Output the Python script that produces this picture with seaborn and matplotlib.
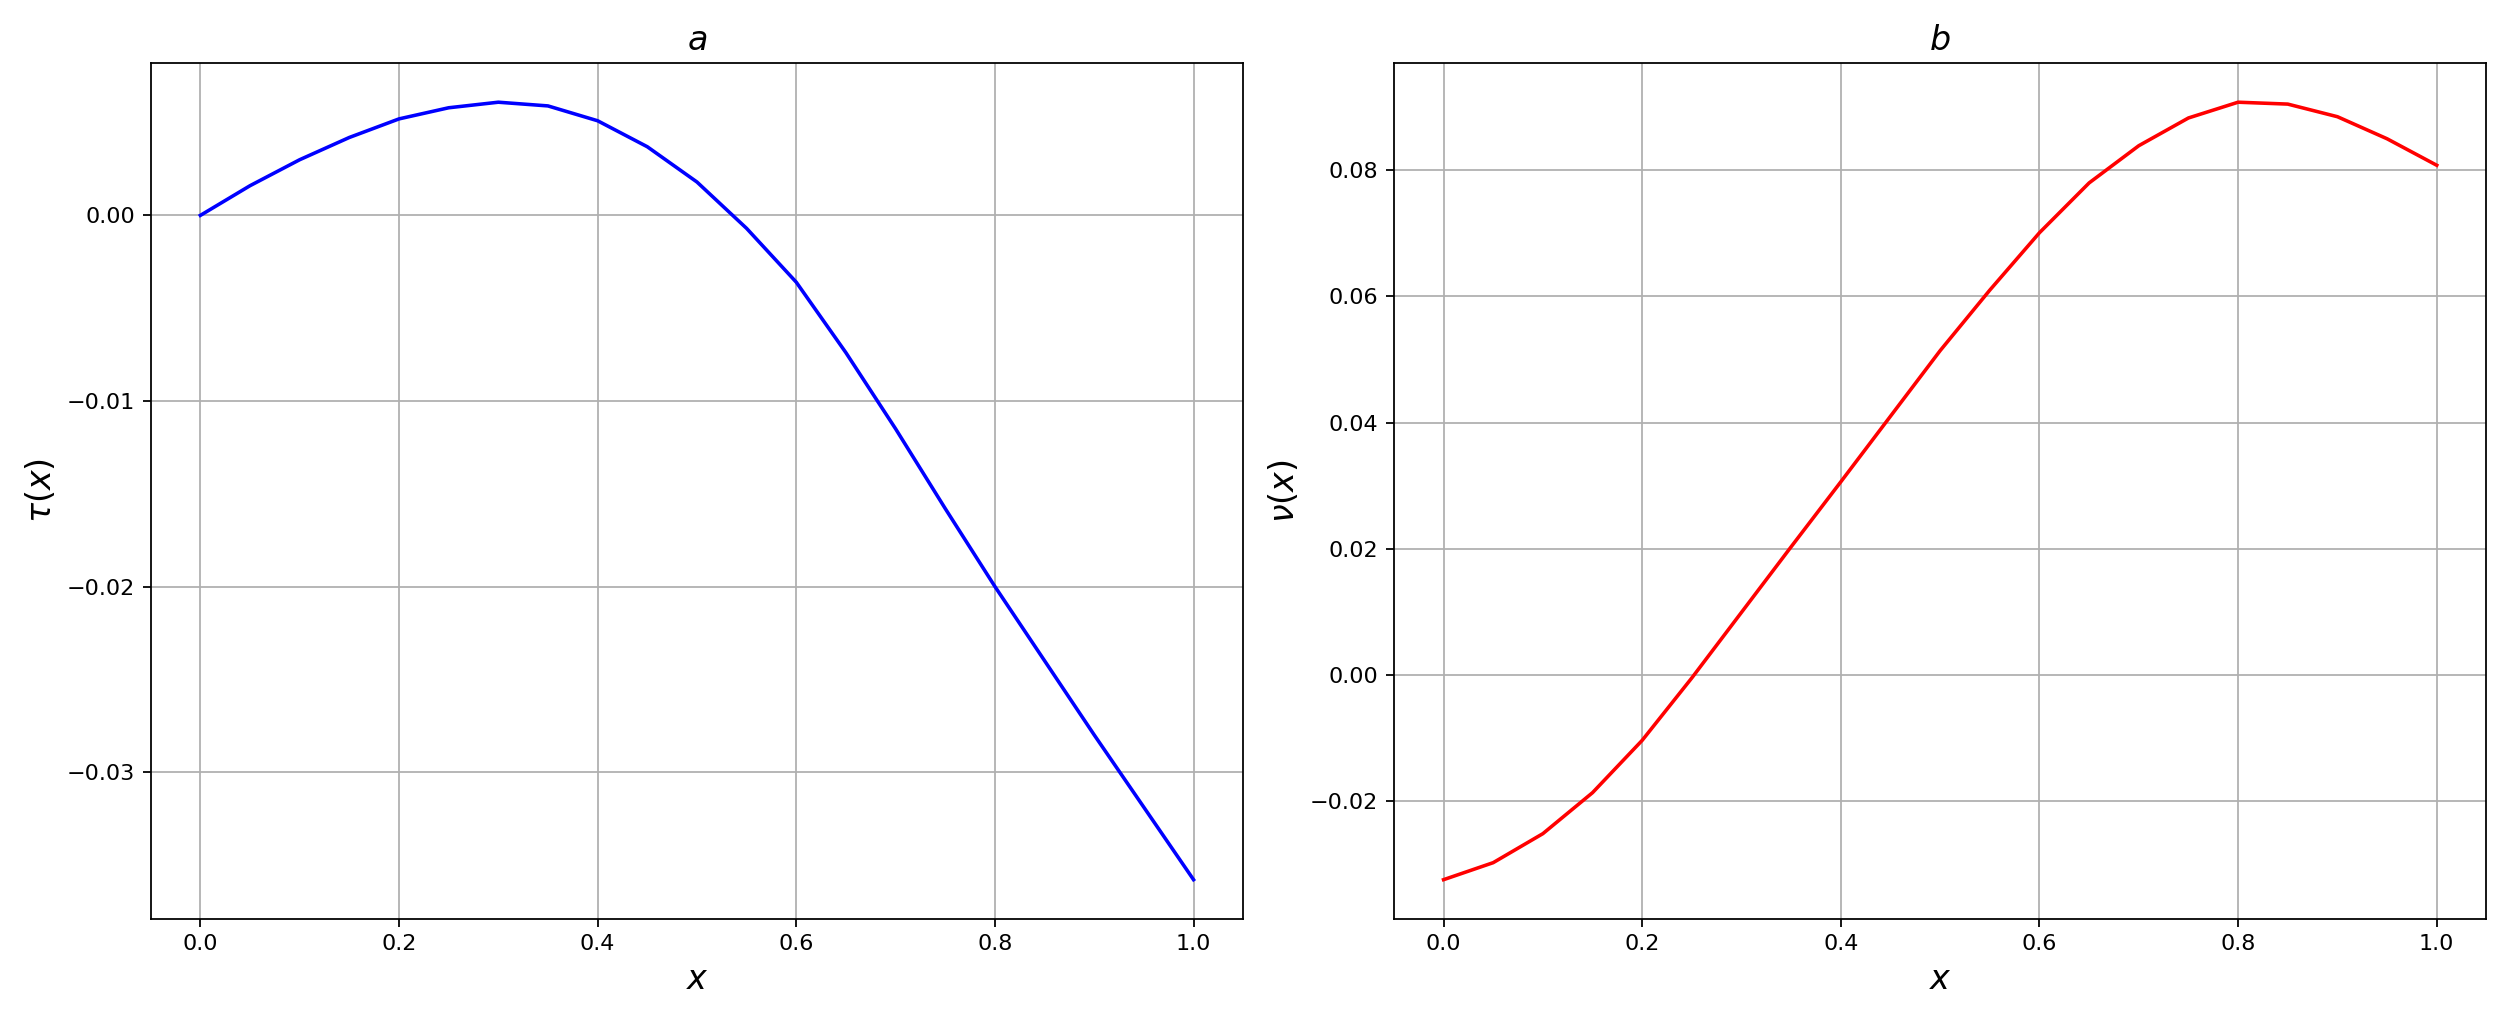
import numpy as np
import matplotlib.pyplot as plt
import seaborn as sns

# values
x = [0.0, 0.05, 0.1, 0.15, 0.2, 0.25, 0.3, 0.35, 0.4, 0.45, 0.5,
     0.55, 0.6, 0.65, 0.7, 0.75, 0.8, 0.85, 0.9, 0.95, 1.0]
tau = [0.0, 0.0016, 0.0030, 0.0042, 0.0052, 0.0058, 0.0061, 0.0059, 0.0051, 0.0037, 0.0018,
       -0.0007, -0.0036, -0.0074, -0.0115, -0.0158, -0.0200, -0.0240, -0.0280, -0.0319, -0.0358]
nu = [-0.0325, -0.0298, -0.0252, -0.0187, -0.0104, -0.0005, 0.0099, 0.0203, 0.0306, 0.0410, 0.0514,
      0.0610, 0.0701, 0.0780, 0.0839, 0.0883, 0.0908, 0.0905, 0.0885, 0.0850, 0.0808]

fig, axes = plt.subplots(1, 2, figsize=(15.69, 6.375), dpi=160)

sns.lineplot(x=x, y=tau, ax=axes[0], color="blue", linewidth=1.6)
axes[0].set_title("$a$", fontsize=15)
axes[0].set_xlabel("$x$", fontsize=15)
axes[0].set_ylabel(r"$\tau(x)$", fontsize=15)

sns.lineplot(x=x, y=nu, ax=axes[1], color="red", linewidth=1.6)
axes[1].set_title("$b$", fontsize=15)
axes[1].set_xlabel("$x$", fontsize=15)
axes[1].set_ylabel(r"$\nu(x)$", fontsize=15)

for ax in axes:
    ax.grid(True, color="#b0b0b0")
    ax.set_xticks([0.0, 0.2, 0.4, 0.6, 0.8, 1.0])

plt.tight_layout()
plt.savefig("out.png")
